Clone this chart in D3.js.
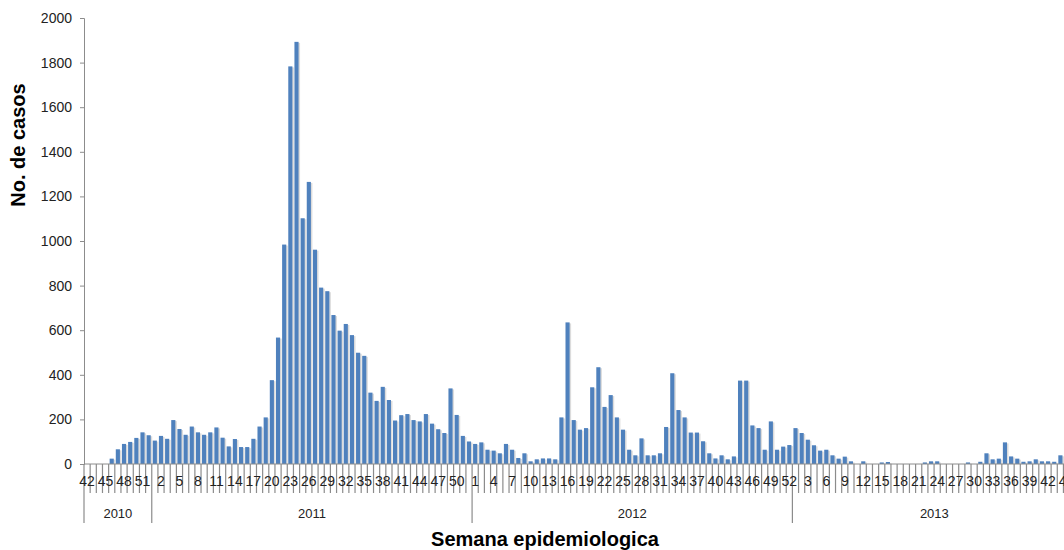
<!DOCTYPE html>
<html><head><meta charset="utf-8">
<script src="https://cdn.jsdelivr.net/npm/d3@7"></script>
<style>body{margin:0;background:#fff}svg{display:block}</style>
</head><body><svg width="1064" height="550"></svg>
<script>
const years = ["2010","2011","2012","2013"];
const weeks2010 = [42,43,44,45,46,47,48,49,50,51,52];
const cases2010 = [0,0,0,0,24,66,90,99,117,142,129];
const cases2011 = [105,126,113,197,157,131,168,142,131,142,164,118,79,112,76,76,113,168,209,376,567,984,1783,1893,1102,1265,961,791,775,668,598,628,578,499,485,320,283,346,287,195,219,224,197,191,224,181,156,139,339,220,126,101];
const cases2012 = [90,97,64,60,48,90,64,27,48,12,21,25,25,21,209,635,197,154,161,344,434,256,309,209,154,64,39,115,39,39,48,166,407,242,209,141,141,102,48,25,39,21,34,374,374,173,161,64,191,64,78,85];
const cases2013 = [161,139,109,84,60,64,39,24,33,12,0,12,0,0,7,9,0,0,0,0,0,7,12,12,0,0,0,0,7,0,10,48,21,24,97,34,24,10,12,21,12,12,10,39,30];
const yTicks = [0,200,400,600,800,1000,1200,1400,1600,1800,2000];

const data = [];
weeks2010.forEach((w,i)=>data.push({year:"2010",week:w,v:cases2010[i]}));
cases2011.forEach((v,i)=>data.push({year:"2011",week:i+1,v}));
cases2012.forEach((v,i)=>data.push({year:"2012",week:i+1,v}));
cases2013.forEach((v,i)=>data.push({year:"2013",week:i+1,v}));
data.forEach((d,i)=>d.i=i);

const svg = d3.select("svg");
const x0 = 84, step = 6.16, baseY = 464;
const x = d3.scaleBand().domain(data.map(d=>d.i)).range([x0, x0+step*data.length]).paddingInner(0.33).paddingOuter(0.16);
const y = d3.scaleLinear().domain([0,2000]).range([baseY,18]);
const font = "'Liberation Sans', Arial, sans-serif";
const grey = "#8c8c8c";

const ya = svg.append("g").attr("transform",`translate(${x0},0)`)
  .call(d3.axisLeft(y).tickValues(yTicks).tickFormat(d3.format("d")).tickSize(4).tickPadding(8));
ya.selectAll("path,line").attr("stroke",grey);
ya.selectAll("text").attr("font-family",font).attr("font-size",14).attr("fill","#222");

svg.append("g").selectAll("rect").data(data.filter(d=>d.v>0)).join("rect")
  .attr("x",d=>x(d.i)+1.5).attr("width",x.bandwidth()).attr("y",d=>y(d.v)+1)
  .attr("height",d=>baseY-y(d.v)-1).attr("fill","#dcdcdc");
svg.append("g").selectAll("rect").data(data.filter(d=>d.v>0)).join("rect")
  .attr("x",d=>x(d.i)).attr("width",x.bandwidth()).attr("y",d=>y(d.v))
  .attr("height",d=>baseY-y(d.v)).attr("fill","#4f81bd");

svg.append("line").attr("x1",x0).attr("x2",1064).attr("y1",baseY).attr("y2",baseY).attr("stroke",grey);
const tk = svg.append("g");
data.forEach(d=>{
  const bx = x0 + step*d.i;
  const yb = (d.i===0 || d.week===1) ? 523 : 493;
  tk.append("line").attr("x1",bx).attr("x2",bx).attr("y1",baseY).attr("y2",yb).attr("stroke",grey).attr("stroke-width",1.2);
});
svg.append("g").selectAll("text").data(data.filter(d=>d.i%3===0)).join("text")
  .attr("x",d=>x(d.i)+x.bandwidth()/2).attr("y",486).attr("text-anchor","middle")
  .attr("font-family",font).attr("font-size",14).attr("fill","#222").text(d=>d.week);
years.forEach(yr=>{
  const ds = data.filter(d=>d.year===yr);
  let a = x0+step*ds[0].i, b = x0+step*(ds[ds.length-1].i+1);
  if(yr==="2013") b = 1064+2*step;
  svg.append("text").attr("x",(a+b)/2).attr("y",518).attr("text-anchor","middle")
    .attr("font-family",font).attr("font-size",13).attr("fill","#222").text(yr);
});
svg.append("text").attr("transform","translate(25,145) rotate(-90)").attr("text-anchor","middle")
  .attr("font-family",font).attr("font-weight","bold").attr("font-size",20).text("No. de casos");
svg.append("text").attr("x",545).attr("y",546).attr("text-anchor","middle")
  .attr("font-family",font).attr("font-weight","bold").attr("font-size",20).text("Semana epidemiologica");
</script></body></html>
